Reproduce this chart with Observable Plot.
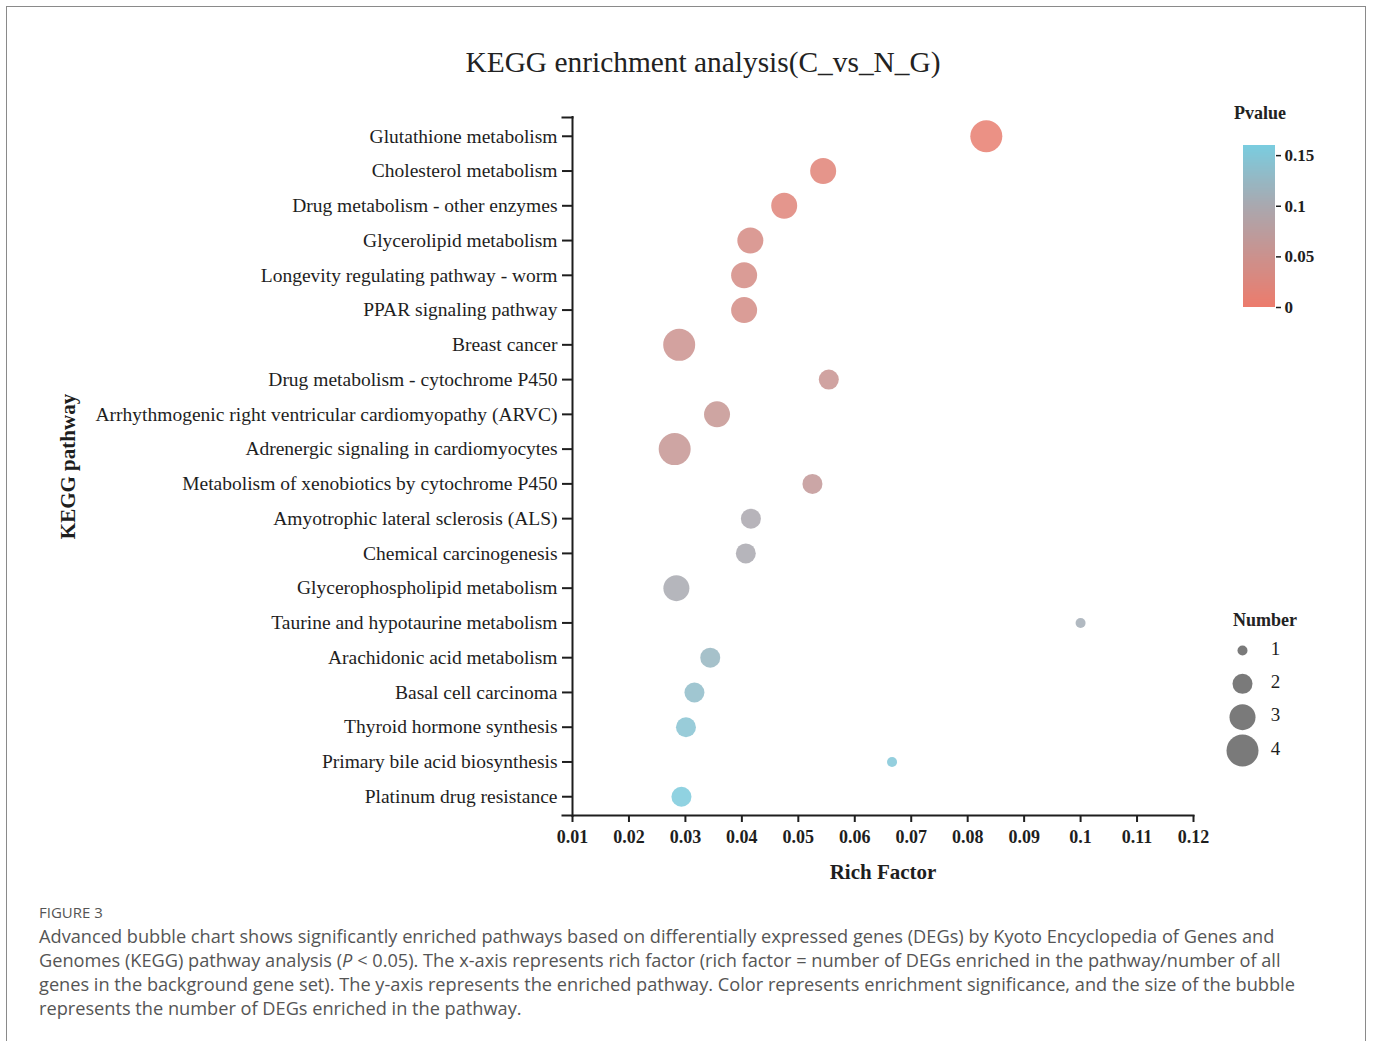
<!DOCTYPE html>
<html>
<head>
<meta charset="utf-8">
<script src="https://cdn.jsdelivr.net/npm/d3@7"></script>
<script src="https://cdn.jsdelivr.net/npm/@observablehq/plot@0.6"></script>
<style>
  html, body { margin: 0; padding: 0; background: #fff; }
  #page { position: relative; width: 1373px; height: 1041px; overflow: hidden; font-family: "Liberation Serif", serif; color: #222; }
  #frame { position: absolute; left: 6px; top: 6px; width: 1360px; height: 1080px; border: 1.5px solid #8a8a8a; box-sizing: border-box; }
  .abs { position: absolute; white-space: nowrap; }
  #title { left: 703px; top: 62px; transform: translate(-50%, -50%); font-size: 29.4px; }
  .legtitle { font-size: 18px; font-weight: bold; transform: translate(-50%, -50%); }
  #main { left: 0; top: 90px; }
  #colorleg { left: 1243px; top: 135px; }
  #sizeleg { left: 1222px; top: 632px; }
  #figlab { left: 39px; top: 902px; font-family: "Open Sans", sans-serif; font-size: 15px; color: #555; }
  #caption { left: 39px; top: 924px; font-family: "Open Sans", sans-serif; font-size: 18.2px; line-height: 24px; color: #555; }
  svg { overflow: visible; }
</style>
</head>
<body>
<div id="page">
  <div id="frame"></div>
  <div id="title" class="abs">KEGG enrichment analysis(C_vs_N_G)</div>
  <div id="main" class="abs"></div>
  <div class="abs legtitle" style="left:1260px; top:113px;">Pvalue</div>
  <div id="colorleg" class="abs"></div>
  <div class="abs legtitle" style="left:1265px; top:620px;">Number</div>
  <div id="sizeleg" class="abs"></div>
  <div id="figlab" class="abs">FIGURE 3</div>
  <div id="caption" class="abs">Advanced bubble chart shows significantly enriched pathways based on differentially expressed genes (DEGs) by Kyoto Encyclopedia of Genes and<br>Genomes (KEGG) pathway analysis (<i>P</i> &lt; 0.05). The x-axis represents rich factor (rich factor = number of DEGs enriched in the pathway/number of all<br>genes in the background gene set). The y-axis represents the enriched pathway. Color represents enrichment significance, and the size of the bubble<br>represents the number of DEGs enriched in the pathway.</div>
</div>
<script>
// ---- data ----
const pathways = [
  "Glutathione metabolism",
  "Cholesterol metabolism",
  "Drug metabolism - other enzymes",
  "Glycerolipid metabolism",
  "Longevity regulating pathway - worm",
  "PPAR signaling pathway",
  "Breast cancer",
  "Drug metabolism - cytochrome P450",
  "Arrhythmogenic right ventricular cardiomyopathy (ARVC)",
  "Adrenergic signaling in cardiomyocytes",
  "Metabolism of xenobiotics by cytochrome P450",
  "Amyotrophic lateral sclerosis (ALS)",
  "Chemical carcinogenesis",
  "Glycerophospholipid metabolism",
  "Taurine and hypotaurine metabolism",
  "Arachidonic acid metabolism",
  "Basal cell carcinoma",
  "Thyroid hormone synthesis",
  "Primary bile acid biosynthesis",
  "Platinum drug resistance"
];
const richFactor = [0.0833, 0.0544, 0.0475, 0.0415, 0.0404, 0.0404, 0.0289, 0.0554, 0.0356, 0.0281,
                    0.0525, 0.0416, 0.0407, 0.0284, 0.1000, 0.0344, 0.0316, 0.0301, 0.0666, 0.0293];
const geneNumber = [4, 3, 3, 3, 3, 3, 4, 2, 3, 4, 2, 2, 2, 3, 1, 2, 2, 2, 1, 2];
const pValue = [0.006, 0.016, 0.02, 0.034, 0.036, 0.037, 0.05, 0.054, 0.057, 0.058,
                0.062, 0.098, 0.1, 0.101, 0.108, 0.122, 0.132, 0.143, 0.15, 0.155];
const xTicks = [0.01, 0.02, 0.03, 0.04, 0.05, 0.06, 0.07, 0.08, 0.09, 0.1, 0.11, 0.12];
const pTicks = [0, 0.05, 0.1, 0.15];
const numberLevels = [1, 2, 3, 4];

const rows = pathways.map((name, i) => ({name, rich: richFactor[i], count: geneNumber[i], p: pValue[i]}));

const fmt = d => String(+(+d).toFixed(2));
const colorScale = {type: "linear", domain: [0, 0.1, 0.16], range: ["#ec7b6c", "#a9a8af", "#79cde0"], interpolate: "rgb"};
const rScale = {type: "linear", domain: [1, 2, 3, 4], range: [5, 10, 13, 16]};
const ink = "#1e1e1e";

// ---- main bubble chart ----
const main = Plot.plot({
  width: 1373,
  height: 800,
  marginLeft: 572,
  marginRight: 180,
  marginTop: 27,
  marginBottom: 75,
  style: {fontFamily: "Liberation Serif", color: ink, background: "transparent", overflow: "visible"},
  x: {domain: [0.01, 0.12]},
  y: {type: "point", domain: pathways, padding: 0.54, round: false},
  color: colorScale,
  r: rScale,
  marks: [
    Plot.dot(rows, {x: "rich", y: "name", r: "count", fill: "p", fillOpacity: 0.85, stroke: null}),
    Plot.axisX({ticks: xTicks, tickFormat: fmt, tickSize: 7, tickPadding: 8, fontSize: 18, fontWeight: "bold", strokeWidth: 2, label: null}),
    Plot.axisY({tickSize: 10, tickPadding: 5, fontSize: 19.5, strokeWidth: 2, label: null}),
    Plot.ruleX([0.01], {strokeWidth: 2, stroke: ink, insetBottom: -2, insetTop: -1}),
    Plot.frame({anchor: "bottom", stroke: ink, strokeWidth: 2, insetLeft: -10}),
    Plot.frame({anchor: "top", stroke: ink, strokeWidth: 2, insetLeft: -10, insetRight: 621}),
    Plot.text(["Rich Factor"], {frameAnchor: "bottom", dy: 63, fontSize: 21, fontWeight: "bold", fill: ink}),
    Plot.text(["KEGG pathway"], {frameAnchor: "left", textAnchor: "middle", dx: -504, rotate: -90, fontSize: 21, fontWeight: "bold", fill: ink})
  ]
});
document.getElementById("main").appendChild(main);

// ---- color legend ----
const gradStep = 0.001;
const grad = d3.range(0, 0.16, gradStep);
const colorLeg = Plot.plot({
  width: 100,
  height: 182,
  marginLeft: 0,
  marginRight: 68,
  marginTop: 10,
  marginBottom: 10,
  style: {fontFamily: "Liberation Serif", color: ink, background: "transparent", overflow: "visible"},
  y: {domain: [0, 0.16]},
  color: colorScale,
  marks: [
    Plot.rect(grad, {y1: d => d, y2: d => d + gradStep * 1.05, fill: d => d, shapeRendering: "crispEdges"}),
    Plot.axisY({anchor: "right", ticks: pTicks, tickFormat: fmt, tickSize: 5, tickPadding: 4, fontSize: 17, fontWeight: "bold", label: null, strokeWidth: 1.5})
  ]
});
document.getElementById("colorleg").appendChild(colorLeg);

// ---- size legend ----
const sizeLeg = Plot.plot({
  width: 100,
  height: 136,
  marginLeft: 20,
  marginRight: 20,
  marginTop: 18,
  marginBottom: 18,
  style: {fontFamily: "Liberation Serif", color: ink, background: "transparent", overflow: "visible"},
  y: {type: "point", domain: numberLevels, padding: 0, axis: null, round: false},
  r: rScale,
  marks: [
    Plot.dot(numberLevels, {y: d => d, r: d => d, fill: "#7a7a7a", frameAnchor: "left"}),
    Plot.text(numberLevels, {y: d => d, text: d => String(d), frameAnchor: "left", textAnchor: "middle", dx: 33, dy: -2, fontSize: 19, fill: ink})
  ]
});
document.getElementById("sizeleg").appendChild(sizeLeg);
</script>
</body>
</html>
